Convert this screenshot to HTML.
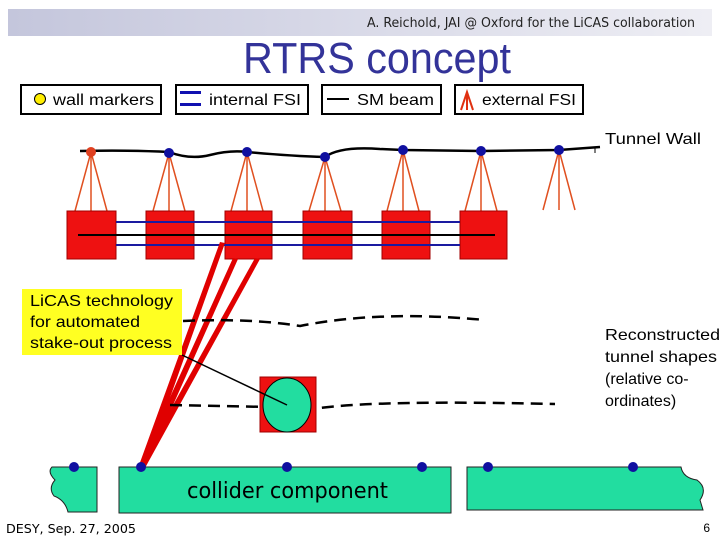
<!DOCTYPE html>
<html><head><style>
body{margin:0;width:720px;height:540px;overflow:hidden;background:#fff;font-family:"Liberation Sans",sans-serif}
</style></head><body>
<svg width="720" height="540" viewBox="0 0 720 540" xmlns="http://www.w3.org/2000/svg" font-family="Liberation Sans, sans-serif">
<defs><linearGradient id="g" x1="0" x2="1"><stop offset="0" stop-color="#c4c6dc"/><stop offset="1" stop-color="#eeeef4"/></linearGradient></defs>
<rect x="8" y="9" width="704" height="27" fill="url(#g)"/>
<text x="367" y="27" font-size="13" fill="#222" textLength="328" lengthAdjust="spacingAndGlyphs" font-family="DejaVu Sans Condensed, DejaVu Sans, sans-serif">A. Reichold, JAI @ Oxford for the LiCAS collaboration</text>
<text x="243" y="73" font-size="44" fill="#333399" textLength="268" lengthAdjust="spacingAndGlyphs">RTRS concept</text>
<g stroke="#000" stroke-width="2" fill="#fff">
<rect x="21" y="85" width="140" height="29"/><rect x="176" y="85" width="132" height="29"/>
<rect x="322" y="85" width="119" height="29"/><rect x="455" y="85" width="128" height="29"/></g>
<circle cx="40" cy="99" r="5.5" fill="#ffee00" stroke="#000"/>
<text x="53" y="105" font-size="16" textLength="101" lengthAdjust="spacingAndGlyphs">wall markers</text>
<rect x="180" y="91" width="21" height="3" fill="#1010b0"/><rect x="180" y="103" width="21" height="3" fill="#1010b0"/>
<text x="209" y="105" font-size="16" textLength="92" lengthAdjust="spacingAndGlyphs">internal FSI</text>
<line x1="327" y1="99" x2="349" y2="99" stroke="#000" stroke-width="2"/>
<text x="357" y="105" font-size="16" textLength="77" lengthAdjust="spacingAndGlyphs">SM beam</text>
<path d="M461 110 L467 92 L473 110 M467 92 V110" stroke="#e03010" stroke-width="2" fill="none"/>
<text x="482" y="105" font-size="16" textLength="94" lengthAdjust="spacingAndGlyphs">external FSI</text>
<path d="M80 151 Q130 150 169 152 Q190 160 210 155 Q230 150 247 152 Q290 156 325 157 Q340 146 380 149 L403 150 L481 151 L559 150 L600 147" stroke="#000" stroke-width="2.5" fill="none"/>
<line x1="595" y1="147" x2="595" y2="153" stroke="#000"/>
<text x="605" y="144" font-size="16" textLength="96" lengthAdjust="spacingAndGlyphs">Tunnel Wall</text>
<g stroke="#e05020" stroke-width="1.5" fill="none">
<path d="M91 152 L75 211 M91 152 V211 M91 152 L107 211"/>
<path d="M169 153 L153 211 M169 153 V211 M169 153 L185 211"/>
<path d="M247 152 L231 211 M247 152 V211 M247 152 L263 211"/>
<path d="M325 157 L309 211 M325 157 V211 M325 157 L341 211"/>
<path d="M403 150 L387 211 M403 150 V211 M403 150 L419 211"/>
<path d="M481 151 L465 211 M481 151 V211 M481 151 L497 211"/>
<path d="M559 150 L543 210 M559 150 V210 M559 150 L575 210"/>
</g>
<g fill="#ee1111" stroke="#a00000">
<rect x="67" y="211" width="49" height="48"/><rect x="146" y="211" width="48" height="48"/>
<rect x="225" y="211" width="47" height="48"/><rect x="303" y="211" width="49" height="48"/>
<rect x="382" y="211" width="48" height="48"/><rect x="460" y="211" width="47" height="48"/></g>
<g stroke="#1a1aa0" stroke-width="2"><line x1="116" y1="222" x2="460" y2="222"/><line x1="116" y1="245" x2="460" y2="245"/></g>
<line x1="78" y1="235" x2="495" y2="235" stroke="#000" stroke-width="2"/>
<g fill="#e00000" stroke="none">
<polygon points="138,468 220,242 225,243 145,468"/>
<polygon points="138,468 233,258 238,259 145,468"/>
<polygon points="138,468 255,258 260,259 145,468"/></g>
<g fill="#1010a0"><circle cx="91" cy="152" r="5" fill="#e04020"/><circle cx="169" cy="153" r="5"/><circle cx="247" cy="152" r="5"/><circle cx="325" cy="157" r="5"/><circle cx="403" cy="150" r="5"/><circle cx="481" cy="151" r="5"/><circle cx="559" cy="150" r="5"/></g>
<rect x="22" y="289" width="160" height="66" fill="#ffff22"/>
<text font-size="16" fill="#000"><tspan x="30" y="306" textLength="143" lengthAdjust="spacingAndGlyphs">LiCAS technology</tspan><tspan x="30" y="327" textLength="110" lengthAdjust="spacingAndGlyphs">for automated</tspan><tspan x="30" y="348" textLength="142" lengthAdjust="spacingAndGlyphs">stake-out process</tspan></text>
<path d="M183 321 Q250 318 300 326 Q380 310 485 320" stroke="#000" stroke-width="2.5" stroke-dasharray="12,7" fill="none"/>
<path d="M170 405 L320 408 Q380 400 555 404" stroke="#000" stroke-width="2.5" stroke-dasharray="12,7" fill="none"/>
<rect x="260" y="377" width="56" height="55" fill="#ee1111" stroke="#a00000"/>
<ellipse cx="287" cy="405" rx="24" ry="27" fill="#22dda0" stroke="#000"/>
<line x1="182" y1="355" x2="287" y2="405" stroke="#000" stroke-width="1.5"/>
<text font-size="16"><tspan x="605" y="340" textLength="115" lengthAdjust="spacingAndGlyphs">Reconstructed</tspan><tspan x="605" y="362" textLength="112" lengthAdjust="spacingAndGlyphs">tunnel shapes</tspan><tspan x="605" y="384">(relative co-</tspan><tspan x="605" y="406">ordinates)</tspan></text>
<g fill="#22dda0" stroke="#222">
<path d="M52 467 H97 V512 H68 Q65 500 54 496 Q48 488 55 480 Q47 472 52 467Z"/>
<rect x="119" y="467" width="332" height="46"/>
<path d="M467 467 H681 Q683 478 697 480 Q708 488 700 500 L703 510 H467Z"/></g>
<g fill="#1010a0"><circle cx="74" cy="467" r="5"/><circle cx="141" cy="467" r="5"/><circle cx="287" cy="467" r="5"/><circle cx="422" cy="467" r="5"/><circle cx="488" cy="467" r="5"/><circle cx="633" cy="467" r="5"/></g>
<text x="187" y="498" font-size="22" textLength="201" lengthAdjust="spacingAndGlyphs" font-family="DejaVu Sans Condensed, DejaVu Sans, sans-serif">collider component</text>
<text x="6" y="533" font-size="12" textLength="130" lengthAdjust="spacingAndGlyphs" font-family="DejaVu Sans Condensed, DejaVu Sans, sans-serif">DESY, Sep. 27, 2005</text>
<text x="710" y="532" font-size="12" text-anchor="end">6</text>
</svg>
</body></html>
